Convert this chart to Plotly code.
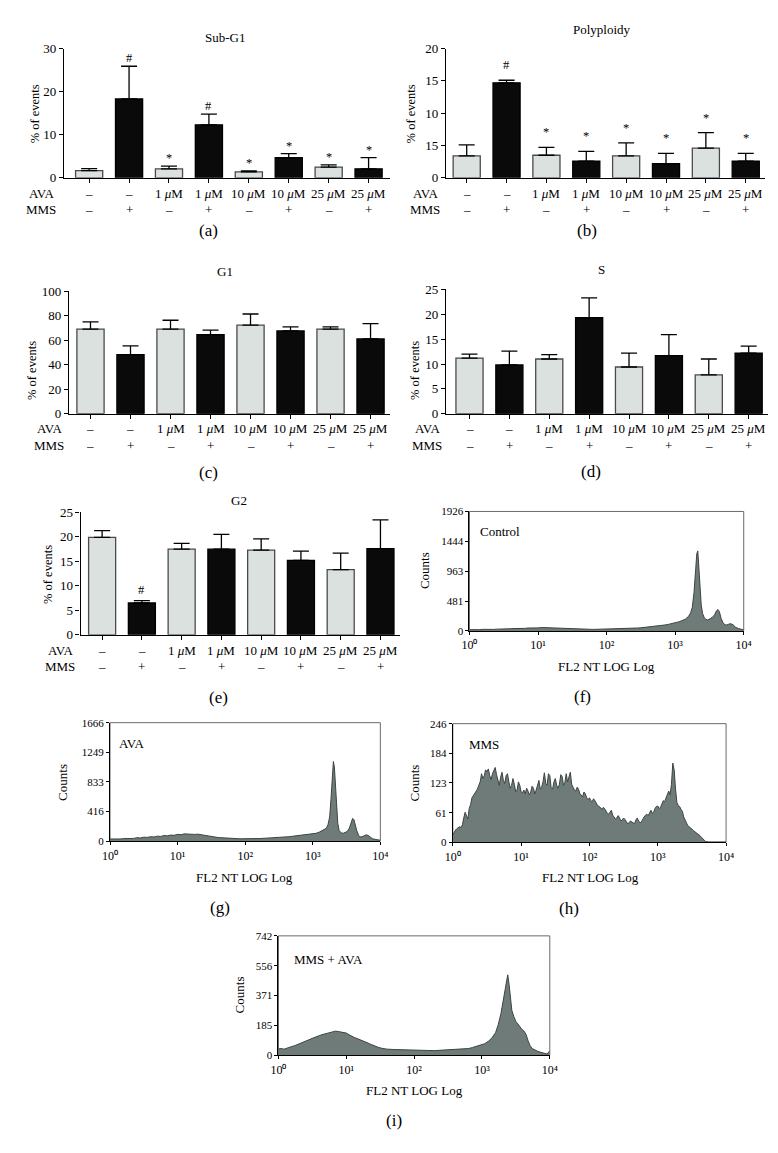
import numpy as np
import plotly.graph_objects as go

# ------------------------------------------------------------------ data
ava_labels = ["–", "–", "1 <i>μ</i>M", "1 <i>μ</i>M", "10 <i>μ</i>M", "10 <i>μ</i>M",
              "25 <i>μ</i>M", "25 <i>μ</i>M"]
mms_labels = ["–", "+", "–", "+", "–", "+", "–", "+"]

subg1_mean = [1.7, 18.3, 2.1, 12.3, 1.4, 4.7, 2.5, 2.1]
subg1_err = [0.45, 7.6, 0.6, 2.5, 0.2, 0.9, 0.5, 2.6]
subg1_sig = ["", "#", "*", "#", "*", "*", "*", "*"]

poly_mean = [3.4, 14.7, 3.5, 2.6, 3.4, 2.2, 4.6, 2.6]
poly_err = [1.7, 0.4, 1.2, 1.5, 2.0, 1.6, 2.4, 1.2]
poly_sig = ["", "#", "*", "*", "*", "*", "*", "*"]
poly_ticktext = ["0", "15", "10", "15", "20"]

g1_mean = [69.2, 48.3, 69.2, 64.6, 72.4, 67.6, 69.2, 61.1]
g1_err = [5.9, 7.2, 7.2, 3.8, 9.1, 3.4, 1.8, 12.6]

s_mean = [11.2, 9.8, 11.0, 19.3, 9.4, 11.7, 7.8, 12.2]
s_err = [0.8, 2.8, 0.9, 4.0, 2.8, 4.2, 3.2, 1.4]

g2_mean = [19.9, 6.5, 17.5, 17.5, 17.3, 15.2, 13.3, 17.6]
g2_err = [1.4, 0.5, 1.2, 3.0, 2.3, 1.9, 3.4, 5.9]
g2_sig = ["", "#", "", "", "", "", "", ""]

# flow-cytometry histograms: (log10 FL2 channel, counts)
control_profile = [
    (0.00, 20), (0.05, 18), (0.10, 22), (0.15, 20), (0.20, 25), (0.25, 22), (0.30, 26),
    (0.35, 24), (0.40, 28), (0.45, 27), (0.50, 32), (0.55, 30), (0.60, 35), (0.65, 38),
    (0.70, 36), (0.75, 42), (0.80, 40), (0.85, 46), (0.90, 44), (0.95, 50), (1.00, 48),
    (1.05, 55), (1.10, 52), (1.15, 58), (1.20, 54), (1.25, 50), (1.30, 47), (1.35, 42),
    (1.40, 40), (1.45, 36), (1.50, 34), (1.55, 30), (1.60, 28), (1.65, 27), (1.70, 25),
    (1.75, 26), (1.80, 24), (1.85, 25), (1.90, 27), (1.95, 26), (2.00, 28), (2.05, 30),
    (2.10, 29), (2.15, 32), (2.20, 34), (2.25, 33), (2.30, 37), (2.35, 40), (2.40, 42),
    (2.45, 46), (2.50, 50), (2.55, 55), (2.60, 58), (2.65, 64), (2.70, 70), (2.75, 78),
    (2.80, 85), (2.85, 95), (2.90, 105), (2.95, 115), (3.00, 128), (3.05, 145),
    (3.10, 165), (3.15, 190), (3.20, 240), (3.225, 290), (3.25, 380), (3.275, 620),
    (3.30, 1000), (3.315, 1240), (3.33, 1290), (3.345, 1050), (3.36, 700), (3.38, 420),
    (3.40, 280), (3.425, 210), (3.45, 185), (3.475, 175), (3.50, 190), (3.525, 205),
    (3.55, 225), (3.575, 260), (3.60, 320), (3.625, 345), (3.645, 310), (3.67, 200),
    (3.70, 130), (3.725, 100), (3.75, 95), (3.775, 105), (3.80, 115), (3.825, 110),
    (3.85, 95), (3.875, 60), (3.90, 45), (3.925, 38), (3.95, 30), (3.975, 25), (4.00, 18),
]
control_yticks = [0, 481, 963, 1444, 1926]

ava_profile = [
    (0.00, 30), (0.05, 28), (0.10, 32), (0.15, 30), (0.20, 35), (0.25, 33), (0.30, 40),
    (0.35, 38), (0.40, 48), (0.45, 45), (0.50, 55), (0.55, 52), (0.60, 62), (0.65, 58),
    (0.70, 70), (0.75, 66), (0.80, 78), (0.85, 75), (0.90, 85), (0.95, 82), (1.00, 95),
    (1.05, 90), (1.10, 102), (1.15, 96), (1.20, 100), (1.25, 94), (1.30, 98), (1.35, 88),
    (1.40, 80), (1.45, 72), (1.50, 66), (1.55, 58), (1.60, 50), (1.65, 46), (1.70, 42),
    (1.75, 40), (1.80, 37), (1.85, 36), (1.90, 34), (1.95, 33), (2.00, 32), (2.05, 34),
    (2.10, 33), (2.15, 35), (2.20, 36), (2.25, 38), (2.30, 40), (2.35, 41), (2.40, 44),
    (2.45, 46), (2.50, 50), (2.55, 53), (2.60, 57), (2.65, 62), (2.70, 68), (2.75, 74),
    (2.80, 80), (2.85, 84), (2.90, 88), (2.95, 92), (3.00, 98), (3.05, 110), (3.10, 128),
    (3.15, 150), (3.20, 180), (3.225, 230), (3.25, 340), (3.27, 600), (3.29, 950),
    (3.305, 1120), (3.32, 1040), (3.335, 800), (3.35, 480), (3.37, 250), (3.39, 150),
    (3.42, 115), (3.45, 110), (3.48, 118), (3.51, 135), (3.54, 180), (3.57, 260),
    (3.59, 320), (3.61, 300), (3.63, 220), (3.65, 150), (3.68, 80), (3.70, 58),
    (3.73, 62), (3.76, 75), (3.79, 88), (3.82, 80), (3.85, 55), (3.88, 35), (3.92, 25),
    (3.96, 18), (4.00, 12),
]
ava_yticks = [0, 416, 833, 1249, 1666]

mms_profile = [
    (0.00, 15), (0.02, 22), (0.04, 25), (0.06, 28), (0.08, 30), (0.10, 32), (0.12, 30),
    (0.14, 36), (0.16, 50), (0.18, 62), (0.20, 55), (0.22, 48), (0.24, 70), (0.26, 78),
    (0.28, 92), (0.30, 96), (0.32, 100), (0.34, 104), (0.36, 110), (0.38, 118),
    (0.40, 125), (0.42, 142), (0.44, 132), (0.46, 138), (0.48, 150), (0.50, 146),
    (0.52, 152), (0.54, 138), (0.56, 130), (0.58, 142), (0.60, 148), (0.62, 155),
    (0.64, 140), (0.66, 125), (0.68, 118), (0.70, 135), (0.72, 145), (0.74, 128),
    (0.76, 122), (0.78, 138), (0.80, 142), (0.82, 125), (0.84, 112), (0.86, 118),
    (0.88, 132), (0.90, 120), (0.92, 105), (0.94, 108), (0.96, 125), (0.98, 118),
    (1.00, 104), (1.02, 102), (1.04, 108), (1.06, 100), (1.08, 112), (1.10, 106),
    (1.12, 98), (1.14, 104), (1.16, 116), (1.18, 112), (1.20, 100), (1.22, 108),
    (1.24, 118), (1.26, 128), (1.28, 110), (1.30, 114), (1.32, 125), (1.34, 144),
    (1.36, 122), (1.38, 118), (1.40, 142), (1.42, 138), (1.44, 112), (1.46, 110),
    (1.48, 125), (1.50, 132), (1.52, 118), (1.54, 112), (1.56, 120), (1.58, 140),
    (1.60, 136), (1.62, 118), (1.64, 124), (1.66, 142), (1.68, 125), (1.70, 138),
    (1.72, 145), (1.74, 120), (1.76, 112), (1.78, 108), (1.80, 106), (1.82, 114),
    (1.84, 110), (1.86, 100), (1.88, 98), (1.90, 94), (1.92, 104), (1.94, 100),
    (1.96, 92), (1.98, 88), (2.00, 92), (2.02, 86), (2.04, 84), (2.06, 90), (2.08, 86),
    (2.10, 80), (2.12, 76), (2.14, 74), (2.16, 72), (2.18, 68), (2.20, 72), (2.22, 70),
    (2.24, 64), (2.26, 60), (2.28, 58), (2.30, 62), (2.32, 66), (2.34, 56), (2.36, 52),
    (2.38, 48), (2.40, 50), (2.42, 55), (2.44, 50), (2.46, 44), (2.48, 46), (2.50, 50),
    (2.52, 47), (2.54, 42), (2.56, 38), (2.58, 40), (2.60, 44), (2.62, 42), (2.64, 40),
    (2.66, 38), (2.68, 46), (2.70, 50), (2.72, 44), (2.74, 40), (2.76, 42), (2.78, 48),
    (2.80, 52), (2.82, 56), (2.84, 58), (2.86, 55), (2.88, 62), (2.90, 66), (2.92, 60),
    (2.94, 62), (2.96, 70), (2.98, 74), (3.00, 75), (3.02, 70), (3.04, 72), (3.06, 80),
    (3.08, 86), (3.10, 84), (3.12, 92), (3.14, 100), (3.16, 106), (3.18, 98),
    (3.20, 120), (3.22, 164), (3.24, 150), (3.26, 110), (3.28, 82), (3.30, 76),
    (3.32, 74), (3.34, 68), (3.36, 64), (3.38, 52), (3.40, 44), (3.42, 40), (3.44, 34),
    (3.46, 32), (3.48, 30), (3.50, 27), (3.52, 24), (3.54, 22), (3.56, 20), (3.58, 17),
    (3.60, 15), (3.62, 13), (3.64, 10), (3.66, 7), (3.68, 3), (3.70, 1), (3.75, 0),
    (3.80, 0), (3.90, 0), (4.00, 0),
]
mms_yticks = [0, 61, 123, 184, 246]

combo_profile = [
    (0.00, 40), (0.04, 42), (0.08, 38), (0.12, 45), (0.16, 50), (0.20, 55), (0.24, 60),
    (0.28, 66), (0.32, 72), (0.36, 80), (0.40, 88), (0.44, 95), (0.48, 102), (0.52, 110),
    (0.56, 116), (0.60, 122), (0.64, 128), (0.68, 132), (0.72, 138), (0.76, 140),
    (0.80, 146), (0.84, 150), (0.88, 148), (0.92, 146), (0.96, 142), (1.00, 138),
    (1.04, 128), (1.08, 118), (1.12, 110), (1.16, 104), (1.20, 98), (1.24, 92),
    (1.28, 86), (1.32, 76), (1.36, 68), (1.40, 60), (1.44, 54), (1.48, 48), (1.52, 44),
    (1.56, 40), (1.60, 38), (1.70, 36), (1.80, 34), (1.90, 33), (2.00, 32), (2.10, 31),
    (2.20, 30), (2.30, 29), (2.40, 31), (2.50, 33), (2.60, 36), (2.70, 38), (2.80, 42),
    (2.86, 48), (2.92, 56), (2.98, 64), (3.04, 72), (3.10, 88), (3.15, 110), (3.20, 140),
    (3.24, 190), (3.28, 260), (3.31, 330), (3.34, 420), (3.36, 470), (3.38, 500),
    (3.40, 440), (3.42, 340), (3.44, 280), (3.47, 240), (3.50, 210), (3.53, 195),
    (3.56, 175), (3.59, 160), (3.62, 150), (3.65, 130), (3.68, 90), (3.71, 60),
    (3.74, 42), (3.78, 32), (3.82, 25), (3.87, 18), (3.92, 10), (3.96, 8), (4.00, 28),
]
combo_yticks = [0, 185, 371, 556, 742]

decade_ticks = [1, 10, 100, 1000, 10000]
decade_text = ["10⁰", "10¹", "10²", "10³", "10⁴"]

# ------------------------------------------------------------------ style
W, H = 778, 1153
SERIF = "Liberation Serif"
LIGHT = "#dbe1de"
LIGHT_EDGE = "#4a4a4a"
DARK = "#0a0a0a"
HIST_FILL = "#6f7b79"
HIST_LINE = "#3c4443"

fig = go.Figure()
ann = []
shapes = []
layout = dict(width=W, height=H, margin=dict(l=0, r=0, t=0, b=0),
              paper_bgcolor="white", plot_bgcolor="white", showlegend=False,
              font=dict(family=SERIF, color="black", size=12))


def names(n):
    s = "" if n == 1 else str(n)
    return "x" + s, "y" + s, "xaxis" + s, "yaxis" + s


def fnt(size):
    return dict(size=size, family=SERIF, color="black")


def text(x, y, s, size=12, xanchor="center", angle=0):
    ann.append(dict(x=x / W, y=1 - y / H, xref="paper", yref="paper", text=s,
                    showarrow=False, font=fnt(size), xanchor=xanchor, yanchor="middle",
                    textangle=angle))


def bar_panel(n, box, xrange, means, errs, ymax, yticks, yticktext, title, title_xy,
              rows_y, rowlab_x, ytitle_xy, label, label_xy, sig=None, sig_shift=0):
    xr, yr, xa, ya = names(n)
    left, right, top, bottom = box
    cats = list(range(len(means)))
    fill = [LIGHT if i % 2 == 0 else DARK for i in cats]
    edge = [LIGHT_EDGE if i % 2 == 0 else "#000000" for i in cats]
    fig.add_trace(go.Bar(
        x=cats, y=means, xaxis=xr, yaxis=yr, width=0.68,
        marker=dict(color=fill, line=dict(color=edge, width=1.3)),
        error_y=dict(type="data", symmetric=False, array=errs, arrayminus=[0] * len(errs),
                     color="black", thickness=1.3, width=8),
        hoverinfo="skip"))
    layout[xa] = dict(domain=[left / W, right / W], range=xrange, anchor=yr,
                      showline=True, linecolor="black", linewidth=1.3,
                      ticks="outside", ticklen=4, tickwidth=1, tickcolor="black",
                      tickvals=cats, showticklabels=False, showgrid=False,
                      zeroline=False, fixedrange=True)
    layout[ya] = dict(domain=[1 - bottom / H, 1 - top / H], range=[0, ymax], anchor=xr,
                      showline=True, linecolor="black", linewidth=1.3,
                      ticks="outside", ticklen=4, tickwidth=1, tickcolor="black",
                      tickvals=yticks, ticktext=yticktext, tickfont=fnt(13),
                      showgrid=False, zeroline=False, fixedrange=True)
    text(*title_xy, title, size=13)
    text(*ytitle_xy, "% of events", size=12.5, angle=-90)
    text(*label_xy, label, size=17)
    text(rowlab_x, rows_y[0], "AVA", size=13)
    text(rowlab_x, rows_y[1], "MMS", size=13)
    for i in cats:
        ann.append(dict(x=i, xref=xr, y=1 - rows_y[0] / H, yref="paper", text=ava_labels[i],
                        showarrow=False, font=fnt(13), yanchor="middle"))
        ann.append(dict(x=i, xref=xr, y=1 - rows_y[1] / H, yref="paper", text=mms_labels[i],
                        showarrow=False, font=fnt(13), yanchor="middle"))
        if sig and sig[i]:
            ann.append(dict(x=i, xref=xr, y=means[i] + errs[i], yref=yr, text=sig[i],
                            showarrow=False, font=fnt(12.5), yanchor="bottom",
                            yshift=sig_shift))


def hist_panel(n, box, profile, yticks, tag, tag_xy, counts_xy, xlab_xy, label, label_xy):
    xr, yr, xa, ya = names(n)
    left, right, top, bottom = box
    logs = np.array([p[0] for p in profile])
    counts = [p[1] for p in profile]
    fig.add_trace(go.Scatter(
        x=10 ** logs, y=counts, xaxis=xr, yaxis=yr, mode="lines",
        line=dict(color=HIST_LINE, width=1), fill="tozeroy", fillcolor=HIST_FILL,
        hoverinfo="skip"))
    layout[xa] = dict(domain=[left / W, right / W], type="log", range=[0, 4], anchor=yr,
                      showline=True, linecolor="black", linewidth=1.2,
                      ticks="outside", ticklen=3, tickcolor="black",
                      tickvals=decade_ticks, ticktext=decade_text, tickfont=fnt(12),
                      showgrid=False, zeroline=False, fixedrange=True)
    layout[ya] = dict(domain=[1 - bottom / H, 1 - top / H], range=[0, yticks[-1]], anchor=xr,
                      showline=True, linecolor="black", linewidth=1.2,
                      ticks="outside", ticklen=3, tickcolor="black",
                      tickvals=yticks, ticktext=[str(v) for v in yticks],
                      tickfont=fnt(11), showgrid=False, zeroline=False,
                      fixedrange=True)
    shapes.append(dict(type="rect", xref=xr + " domain", yref=yr + " domain",
                       x0=0, x1=1, y0=0, y1=1, line=dict(color="#6a6a6a", width=1),
                       layer="below"))
    text(*tag_xy, tag, size=13, xanchor="left")
    text(*counts_xy, "Counts", size=13, angle=-90)
    text(*xlab_xy, "FL2 NT LOG Log", size=13)
    text(*label_xy, label, size=17)


# ------------------------------------------------------------------ panels
bar_panel(1, (49, 382, 34, 165), [-0.63, 7.54], subg1_mean, subg1_err, 30,
          [0, 10, 20, 30], ["0", "10", "20", "30"], "Sub-G1", (213, 23),
          (181, 197), 26, (19, 100), "(a)", (197, 218), subg1_sig, -1)
bar_panel(2, (439, 765, 34, 165), [-0.52, 7.49], poly_mean, poly_err, 20,
          [0, 5, 10, 15, 20], poly_ticktext, "Polyploidy", (598, 15),
          (181, 197), 418, (403, 100), "(b)", (583, 218), poly_sig, 6)
bar_panel(3, (54, 382, 280, 404), [-0.54, 7.49], g1_mean, g1_err, 100,
          [0, 20, 40, 60, 80, 100], ["0", "20", "40", "60", "80", "100"], "G1", (213, 260),
          (419, 436), 34, (17, 360), "(c)", (197, 464))
bar_panel(4, (439, 768, 278, 404), [-0.59, 7.49], s_mean, s_err, 25,
          [0, 5, 10, 15, 20, 25], ["0", "5", "10", "15", "20", "25"], "S", (598, 258),
          (419, 436), 420, (408, 360), "(d)", (587, 463))
bar_panel(5, (66, 392, 504, 628), [-0.54, 7.49], g2_mean, g2_err, 25,
          [0, 5, 10, 15, 20, 25], ["0", "5", "10", "15", "20", "25"], "G2", (228, 492),
          (644, 660), 45, (32, 567), "(e)", (207, 691), g2_sig, 2)

hist_panel(6, (463, 743, 503, 624), control_profile, control_yticks, "Control", (472, 523),
           (417, 563), (603, 660), "(f)", (578, 690))
hist_panel(7, (96, 372, 717, 837), ava_profile, ava_yticks, "AVA", (103, 738),
           (48, 778), (233, 874), "(g)", (208, 904))
hist_panel(8, (446, 725, 718, 838), mms_profile, mms_yticks, "MMS", (460, 739),
           (407, 778), (587, 874), "(h)", (565, 905))
hist_panel(9, (268, 545, 933, 1054), combo_profile, combo_yticks, "MMS + AVA", (282, 957),
           (228, 993), (407, 1090), "(i)", (386, 1120))

layout["annotations"] = ann
layout["shapes"] = shapes
fig.update_layout(**layout)
fig.write_html("out.html")
